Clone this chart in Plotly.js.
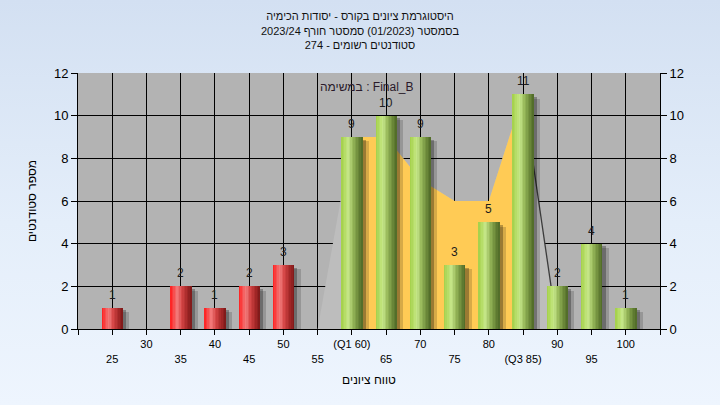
<!DOCTYPE html>
<html>
<head>
<meta charset="utf-8">
<script src="https://cdn.plot.ly/plotly-3.0.1.min.js"></script>
<style>
html, body { margin:0; padding:0; width:720px; height:405px; overflow:hidden;
  background: linear-gradient(to bottom, #d3e0f2 0%, #e4eefa 55%, #eef5fe 100%); }
#chart { width:720px; height:405px; }
</style>
</head>
<body>
<div id="chart"></div>
<script>
// ---- data ----
const categories = [25, 30, 35, 40, 45, 50, 55, 60, 65, 70, 75, 80, 85, 90, 95, 100];
const counts     = [1, 0, 2, 1, 2, 3, 0, 9, 10, 9, 3, 5, 11, 2, 4, 1];
const tickLabels = ['25','30','35','40','45','50','55','(Q1 60)','65','70','75','80','(Q3 85)','90','95','100'];
// light-gray distribution envelope
const envX = [55, 60, 65, 70, 75, 80, 85, 90];
const envY = [0, 9, 9, 7, 6, 6, 11, 0];
// orange Q1..Q3 band
const iqrX = [60, 65, 70, 75, 80, 85];
const iqrY = [9, 9, 7, 6, 6, 11];
// dark edge line after Q3
const edgeX = [85, 90];
const edgeY = [11, 0];
const failBelow = 55;

const titleLines = ['היסטוגרמת ציונים בקורס - יסודות הכימיה',
                    'בסמסטר (01/2023) סמסטר חורף 2023/24',
                    'סטודנטים רשומים - 274'];
const taskLabel = 'במשימה : Final_B';
const xTitle = 'טווח ציונים';
const yTitle = 'מספר סטודנטים';

// ---- styling helpers ----
const FONT = 'Liberation Sans, Arial, sans-serif';
function hex2rgb(h){return [1,3,5].map(i=>parseInt(h.substr(i,2),16));}
function grad(stops, t){
  for (let k=0;k<stops.length-1;k++){
    const [t0,c0]=stops[k],[t1,c1]=stops[k+1];
    if (t>=t0 && t<=t1){
      const f=(t-t0)/(t1-t0), a=hex2rgb(c0), b=hex2rgb(c1);
      return 'rgb('+a.map((v,i)=>Math.round(v+(b[i]-v)*f)).join(',')+')';
    }
  }
  return stops[stops.length-1][1];
}
const redStops   = [[0,'#ff1c1c'],[0.22,'#f45c5c'],[0.34,'#f27c7c'],[0.55,'#d44444'],[0.8,'#a52828'],[1,'#7a1818']];
const greenStops = [[0,'#a2cf48'],[0.22,'#bbe070'],[0.34,'#c6e68a'],[0.55,'#98b95a'],[0.8,'#6c8a3a'],[1,'#4d6826']];

const BW = 3.1;      // bar width in x units
const N = 14;        // stripes per bar
const traces = [];

// areas on the base subplot (drawn under the bars)
traces.push({type:'scatter', x:envX, y:envY, mode:'lines', fill:'tozeroy',
  fillcolor:'#bdbdbd', line:{width:0, color:'#bdbdbd'}, hoverinfo:'skip', showlegend:false});
traces.push({type:'scatter', x:iqrX, y:iqrY, mode:'lines', fill:'tozeroy',
  fillcolor:'#ffcb55', line:{width:0, color:'#ffcb55'}, hoverinfo:'skip', showlegend:false});
traces.push({type:'scatter', x:edgeX, y:edgeY, mode:'lines',
  line:{width:1.3, color:'#3c3c3c'}, hoverinfo:'skip', showlegend:false});

// bars on the overlay subplot (drawn above the areas)
traces.push({type:'bar', x:categories, y:counts.map(v=>v>0?v-0.2:0), width:BW, offset:-BW/2+0.95,
  xaxis:'x2', yaxis:'y2',
  marker:{color:'rgba(0,0,0,0.16)', line:{width:0}}, hoverinfo:'skip', showlegend:false});
traces.push({type:'bar', x:categories, y:counts.map(v=>v>0?v-0.12:0), width:BW, offset:-BW/2+0.5,
  xaxis:'x2', yaxis:'y2',
  marker:{color:'rgba(0,0,0,0.28)', line:{width:0}}, hoverinfo:'skip', showlegend:false});

const sw = BW/N;
for (let i=0;i<N;i++){
  const t = (i+0.5)/N;
  traces.push({type:'bar', x:categories, y:counts, width:sw+0.03, offset:-BW/2+i*sw,
    xaxis:'x2', yaxis:'y2',
    marker:{color:categories.map(c=> c<failBelow ? grad(redStops,t) : grad(greenStops,t)), line:{width:0}},
    hoverinfo:'skip', showlegend:false});
}

const annotations = [];
categories.forEach((c,i)=>{
  if (counts[i] > 0) annotations.push({x:c, y:counts[i], xref:'x', yref:'y', text:String(counts[i]),
    showarrow:false, yanchor:'bottom', yshift:4, font:{family:FONT, size:12, color:'#1c1c1c'}});
});
annotations.push({xref:'paper', yref:'paper', x:0.497, y:0.945, text:taskLabel, showarrow:false,
  xanchor:'center', yanchor:'middle', font:{family:FONT, size:12, color:'#2a1a2a'}});

const tickvals = [20].concat(categories, [105]);
const ticktext = [''].concat(tickLabels.map((t,i)=> i%2===0 ? '<br>'+t : t), ['']);

const yAxisCommon = {range:[0,12], tickvals:[0,2,4,6,8,10,12], ticks:'outside', ticklen:6,
  tickcolor:'#000', showline:true, linecolor:'#000', linewidth:1, zeroline:false,
  tickfont:{family:FONT, size:13, color:'#000'}, fixedrange:true};

const layout = {
  width:720, height:405,
  paper_bgcolor:'rgba(0,0,0,0)', plot_bgcolor:'#b3b3b3',
  margin:{l:78, r:60, t:73, b:76},
  barmode:'overlay', bargap:0,
  title:{text:titleLines.map(s=>'\u202B'+s+'\u202C').join('<br>'), x:0.5, xanchor:'center',
    y:0.95, yanchor:'top', font:{family:FONT, size:11, color:'#111'}},
  xaxis:{range:[20,105], tickmode:'array', tickvals:tickvals, ticktext:ticktext,
    ticks:'outside', ticklen:5, tickcolor:'#000', showline:true, linecolor:'#000', linewidth:1,
    showgrid:true, gridcolor:'#000', gridwidth:1, zeroline:false, tickangle:0,
    tickfont:{family:FONT, size:11, color:'#000'},
    title:{text:xTitle, standoff:12, font:{family:FONT, size:12, color:'#000'}}},
  xaxis2:{range:[20,105], overlaying:'x', visible:false, showgrid:false, zeroline:false},
  yaxis:Object.assign({}, yAxisCommon, {showgrid:true, gridcolor:'#000', gridwidth:1,
    title:{text:yTitle, standoff:14, font:{family:FONT, size:12, color:'#000'}}}),
  yaxis2:Object.assign({}, yAxisCommon, {overlaying:'y', side:'right', anchor:'x2', showgrid:false}),
  annotations:annotations,
  showlegend:false
};

Plotly.newPlot('chart', traces, layout, {staticPlot:true});
</script>
</body>
</html>
